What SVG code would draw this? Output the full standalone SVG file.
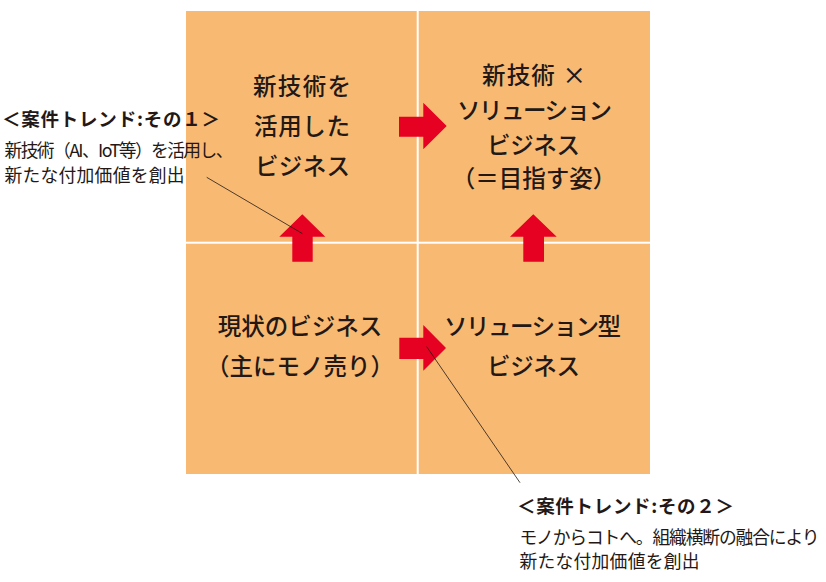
<svg xmlns="http://www.w3.org/2000/svg" width="826" height="582" viewBox="0 0 826 582">
<style>
.cell{fill:#F8BA73}
.lbl{font-family:"Noto Sans CJK JP","Noto Sans",sans-serif;font-size:23.5px;font-weight:500;fill:#231815}
.ttl{font-family:"Noto Sans CJK JP","Noto Sans",sans-serif;font-size:18.5px;font-weight:700;fill:#231815}
.txt{font-family:"Noto Sans CJK JP","Noto Sans",sans-serif;font-size:17.8px;font-weight:400;fill:#231815}
.arr{fill:#E60021}
.lead{stroke:#231815;stroke-width:0.8;fill:none}
</style>
<rect width="826" height="582" fill="#FFFFFF"/>
<g id="node-tl">
<rect class="cell" x="186" y="11" width="230.7" height="230.7"/>
<text class="lbl" x="253" y="95" textLength="98">新技術を</text>
<text class="lbl" x="254" y="135" textLength="96">活用した</text>
<text class="lbl" x="255" y="175" textLength="95">ビジネス</text>
</g>
<g id="node-tr">
<rect class="cell" x="418.7" y="11" width="231.3" height="230.7"/>
<text class="lbl" x="482" y="83.5" textLength="104">新技術 ×</text>
<text class="lbl" x="457" y="118.5" textLength="155">ソリューション</text>
<text class="lbl" x="487" y="153.5" textLength="93">ビジネス</text>
<text class="lbl" x="534" y="187" text-anchor="middle">（＝目指す姿）</text>
</g>
<g id="node-bl">
<rect class="cell" x="186" y="243.7" width="230.7" height="230.3"/>
<text class="lbl" x="300" y="335" text-anchor="middle">現状のビジネス</text>
<text class="lbl" x="300" y="375" text-anchor="middle">（主にモノ売り）</text>
</g>
<g id="node-br">
<rect class="cell" x="418.7" y="243.7" width="231.3" height="230.3"/>
<text class="lbl" x="444" y="335" textLength="177">ソリューション型</text>
<text class="lbl" x="487" y="375" textLength="93">ビジネス</text>
</g>
<g id="connectors">
<polygon class="arr" points="302.3,214.3 325.3,236.8 312.7,236.8 312.7,261.7 292.3,261.7 292.3,236.8 279.3,236.8"/>
<polygon class="arr" points="533.3,214.3 556.7,236.8 544,236.8 544,261.7 523.3,261.7 523.3,236.8 510,236.8"/>
<polygon class="arr" points="399,116.7 423.3,116.7 423.3,102.7 446.7,126 423.3,149.3 423.3,136.7 399,136.7"/>
<polygon class="arr" points="399.3,337.7 423.3,337.7 423.3,325 446,348 423.3,370.7 423.3,359 399.3,359"/>
<line class="lead" x1="206.7" y1="177.3" x2="302.3" y2="233.5"/>
<line class="lead" x1="426.7" y1="346.7" x2="520" y2="482.7"/>
</g>
<g id="note-1">
<text class="ttl" x="2" y="126" textLength="218">＜案件トレンド:その１＞</text>
<text class="txt" x="4.5" y="156.5" textLength="229">新技術（AI、IoT等）を活用し、</text>
<text class="txt" x="4.5" y="182" textLength="180">新たな付加価値を創出</text>
</g>
<g id="note-2">
<text class="ttl" x="517" y="512.5" textLength="217">＜案件トレンド:その２＞</text>
<text class="txt" x="519.5" y="544" textLength="300">モノからコトへ。組織横断の融合により</text>
<text class="txt" x="519.5" y="567.5" textLength="180">新たな付加価値を創出</text>
</g>
</svg>
